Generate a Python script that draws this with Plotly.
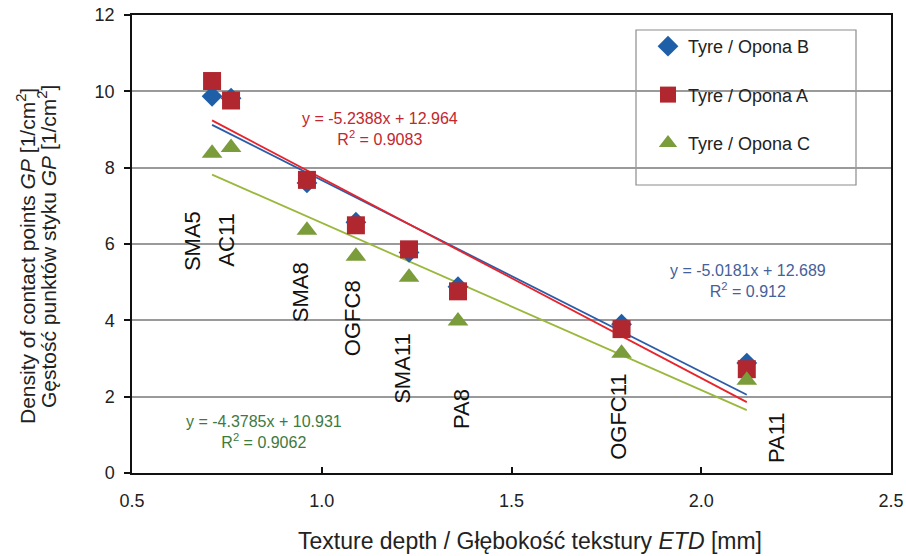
import plotly.graph_objects as go

# Surface types and their mean texture depth ETD [mm]
surfaces = ["SMA5", "AC11", "SMA8", "OGFC8", "SMA11", "PA8", "OGFC11", "PA11"]
etd = [0.711, 0.761, 0.961, 1.09, 1.23, 1.359, 1.79, 2.12]

# Density of contact points GP [1/cm2] for each tyre
gp_tyre_b = [9.87, 9.82, 7.60, 6.57, 5.78, 4.88, 3.90, 2.88]
gp_tyre_a = [10.27, 9.76, 7.68, 6.49, 5.86, 4.76, 3.77, 2.72]
gp_tyre_c = [8.38, 8.53, 6.36, 5.68, 5.13, 3.98, 3.14, 2.43]

# Linear trendlines: slope, intercept, R2
fit_b = (-5.0181, 12.689, 0.912)
fit_a = (-5.2388, 12.964, 0.9083)
fit_c = (-4.3785, 10.931, 0.9062)

# Label positions for the surface names (data coords)
label_x = [0.661, 0.749, 0.943, 1.08, 1.211, 1.37, 1.783, 2.2]
label_y = [6.08, 6.10, 4.74, 4.06, 2.75, 1.68, 1.47, 0.92]

x_ticks = [0.5, 1.0, 1.5, 2.0, 2.5]
y_ticks = [0, 2, 4, 6, 8, 10, 12]

FONT = "Liberation Sans, Arial, sans-serif"
PX_X = 379.5   # pixels per x unit
PX_Y = 38.17   # pixels per y unit


def to_x(px):
    return (px - 132) / PX_X + 0.5


def to_y(py):
    return (473 - py) / PX_Y


fig = go.Figure()

x_line = [min(etd), max(etd)]
line_colors = {"B": "#2b5ca8", "A": "#e8232c", "C": "#9ab83c"}
for key, fit in (("C", fit_c), ("B", fit_b), ("A", fit_a)):
    slope, icpt, _ = fit
    fig.add_trace(go.Scatter(
        x=x_line, y=[slope * v + icpt for v in x_line], mode="lines",
        line=dict(color=line_colors[key], width=1.8),
        showlegend=False, hoverinfo="skip"))

series = [
    ("Tyre / Opona B", gp_tyre_b, "diamond", "#1f5fa8", 16),
    ("Tyre / Opona A", gp_tyre_a, "square", "#b0272f", 18),
    ("Tyre / Opona C", gp_tyre_c, "triangle-up", "#7b9c3a", 18),
]
for i, (name, vals, sym, col, size) in enumerate(series):
    fig.add_trace(go.Scatter(
        x=etd, y=vals, mode="markers", name=name, legendgroup=f"g{i}",
        marker=dict(symbol=sym, color=col, size=size, line=dict(width=0))))

# Surface name labels
for name, lx, ly in zip(surfaces, label_x, label_y):
    fig.add_annotation(x=lx, y=ly, text=name, textangle=-90, showarrow=False,
                       font=dict(family=FONT, size=22, color="#111111"))


# Trendline equations
def eq_text(fit):
    slope, icpt, r2 = fit
    return f"y = {slope:.4f}x + {icpt:g}<br>R<sup>2</sup> = {r2:g}"


fig.add_annotation(x=to_x(380), y=to_y(129), text=eq_text(fit_a), showarrow=False,
                   font=dict(family=FONT, size=16, color="#c3262e"))
fig.add_annotation(x=to_x(748), y=to_y(281), text=eq_text(fit_b), showarrow=False,
                   font=dict(family=FONT, size=16, color="#45609a"))
fig.add_annotation(x=to_x(264), y=to_y(432), text=eq_text(fit_c), showarrow=False,
                   font=dict(family=FONT, size=16, color="#3d7a40"))

# Y axis title, two lines
y_titles = ["Density of contact points <i>GP</i> [1/cm<sup>2</sup>]",
            "Gęstość punktów styku <i>GP</i> [1/cm<sup>2</sup>]"]
for txt, px, py in zip(y_titles, (26, 47), (256, 247)):
    fig.add_annotation(xref="paper", yref="paper", x=(px - 132) / 759,
                       y=(473 - py) / 458,
                       xanchor="center", yanchor="middle", text=txt,
                       textangle=-90, showarrow=False,
                       font=dict(family=FONT, size=21, color="#222222"))

# X axis title
fig.add_annotation(xref="paper", yref="paper", x=(530 - 132) / 759,
                   y=(473 - 541) / 458, xanchor="center", yanchor="middle",
                   text="Texture depth / Głębokość tekstury <i>ETD</i> [mm]",
                   showarrow=False,
                   font=dict(family=FONT, size=23, color="#222222"))

# Legend frame
fig.add_shape(type="rect", xref="paper", yref="paper",
              x0=(636 - 132) / 759, x1=(856 - 132) / 759,
              y0=(473 - 185) / 458, y1=(473 - 30) / 458,
              line=dict(color="#8c8c8c", width=1.2), fillcolor="white", layer="below")

fig.update_layout(
    width=906, height=556,
    margin=dict(l=132, r=15, t=15, b=83),
    plot_bgcolor="white", paper_bgcolor="white",
    font=dict(family=FONT, size=16, color="#222222"),
    legend=dict(x=(648 - 132) / 759, y=(473 - 28) / 458, xanchor="left", yanchor="top",
                bgcolor="rgba(0,0,0,0)", borderwidth=0,
                font=dict(family=FONT, size=18, color="#222222"),
                tracegroupgap=22, traceorder="grouped"),
    xaxis=dict(range=[0.5, 2.5], tickvals=x_ticks,
               ticktext=[f"{v:.1f}" for v in x_ticks], automargin=False,
               showgrid=False, zeroline=False,
               showline=True, linecolor="#111111", linewidth=1.5, mirror=True,
               ticks="inside", ticklen=6, tickcolor="#111111", tickwidth=1.5,
               ticklabelstandoff=11,
               tickfont=dict(family=FONT, size=18, color="#222222")),
    yaxis=dict(range=[0, 12], tickvals=y_ticks, automargin=False,
               showgrid=True, gridcolor="#9a9a9a", gridwidth=1.5, zeroline=False,
               showline=True, linecolor="#111111", linewidth=1.5, mirror=True,
               ticks="outside", ticklen=6, tickcolor="#111111", tickwidth=1.5,
               ticklabelstandoff=6,
               tickfont=dict(family=FONT, size=18, color="#222222")),
)

fig.write_html("out.html")
